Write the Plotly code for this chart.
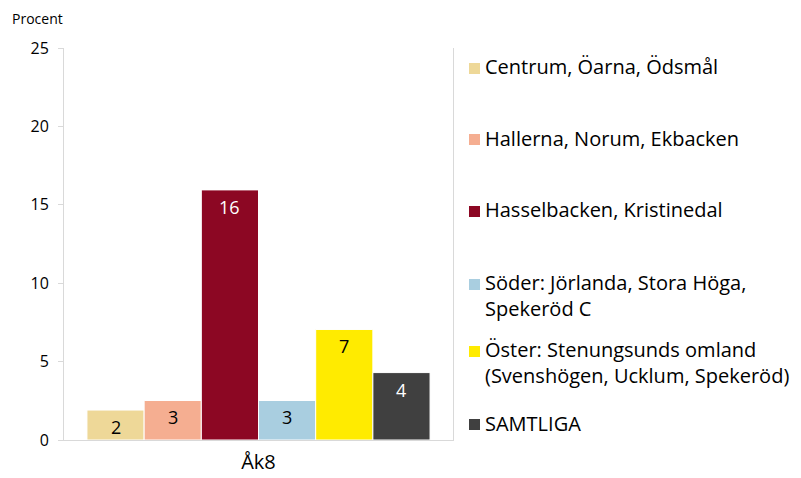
import plotly.graph_objects as go

category = ["Åk8"]
series_names = [
    "Centrum, Öarna, Ödsmål",
    "Hallerna, Norum, Ekbacken",
    "Hasselbacken, Kristinedal",
    "Söder: Jörlanda, Stora Höga,<br>Spekeröd C",
    "Öster: Stenungsunds omland<br>(Svenshögen, Ucklum, Spekeröd)",
    "SAMTLIGA",
]
series_values = [1.91, 2.52, 15.95, 2.52, 7.05, 4.3]
y_ticks = [0, 5, 10, 15, 20, 25]

colors = ["#EED898", "#F5AE91", "#8C0723", "#A9CEE0", "#FFEB00", "#404040"]
text_colors = ["#000000", "#000000", "#FFFFFF", "#000000", "#000000", "#FFFFFF"]
legend_row_px = [67, 138, 210, 283, 350, 423]  # first-line centres, page px from top

FONT = "Open Sans"
OFF = 8                      # page body margin around the plot div
PAGE_W, PAGE_H = 801, 478
W, H = PAGE_W - OFF, PAGE_H - OFF
# plot area in page pixels: x 64..453, y 48..440
PL, PR, PT, PB = 64, 453, 48, 440
L, R, T, B = PL - OFF, W - (PR - OFF), PT - OFF, H - (PB - OFF)
plot_w = PR - PL
plot_h = PB - PT
BARGAP = 0.118
LEG_FS = 20
LINE_H = 24


def px_x(px):
    return (px - PL) / plot_w


def px_y(py):
    return (PB - py) / plot_h


fig = go.Figure()
n = len(series_names)
slot = (1 - BARGAP) / n
for i, (name, val) in enumerate(zip(series_names, series_values)):
    fig.add_trace(go.Bar(
        x=category, y=[val], name=name,
        marker=dict(color=colors[i], line=dict(color="#FFFFFF", width=1)),
        showlegend=False, hoverinfo="skip",
    ))
    # value label inside the top of each bar
    fig.add_annotation(
        x=(i - (n - 1) / 2) * slot, y=val, xref="x", yref="y",
        text=f"{val:.0f}", showarrow=False, yanchor="middle", yshift=-17,
        font=dict(family=FONT, size=18, color=text_colors[i]),
    )
    # legend entry (marker + text)
    row = legend_row_px[i]
    fig.add_shape(
        type="rect", xref="paper", yref="paper",
        x0=px_x(469), x1=px_x(480), y0=px_y(row + 7), y1=px_y(row - 4),
        fillcolor=colors[i], line=dict(width=0),
    )
    nlines = name.count("<br>") + 1
    fig.add_annotation(
        x=px_x(483), y=px_y(row + (nlines - 1) * LINE_H / 2),
        xref="paper", yref="paper", xanchor="left", yanchor="middle",
        align="left", text=name, showarrow=False,
        font=dict(family=FONT, size=LEG_FS, color="#000000"),
    )

fig.update_layout(
    width=W, height=H,
    margin=dict(l=L, r=R, t=T, b=B, autoexpand=False),
    paper_bgcolor="#FFFFFF", plot_bgcolor="#FFFFFF",
    barmode="group", bargap=BARGAP, bargroupgap=0,
    font=dict(family=FONT, color="#000000"),
    showlegend=False,
)
fig.update_yaxes(
    range=[0, 25], tickvals=y_ticks, showgrid=False, zeroline=False,
    showline=True, linecolor="#D9D9D9", linewidth=1, mirror=True,
    ticks="outside", ticklen=5, tickcolor="#D9D9D9", ticklabelstandoff=6,
    tickfont=dict(family=FONT, size=16, color="#000000"),
)
fig.update_xaxes(
    showgrid=False, showline=True, linecolor="#D9D9D9", linewidth=1,
    ticks="", ticklabelstandoff=4,
    tickfont=dict(family=FONT, size=20, color="#000000"),
)
fig.add_annotation(
    text="Procent", xref="paper", yref="paper",
    x=px_x(10), y=px_y(18), xanchor="left", yanchor="middle", showarrow=False,
    font=dict(family=FONT, size=14, color="#000000"),
)
fig.write_html("out.html")
